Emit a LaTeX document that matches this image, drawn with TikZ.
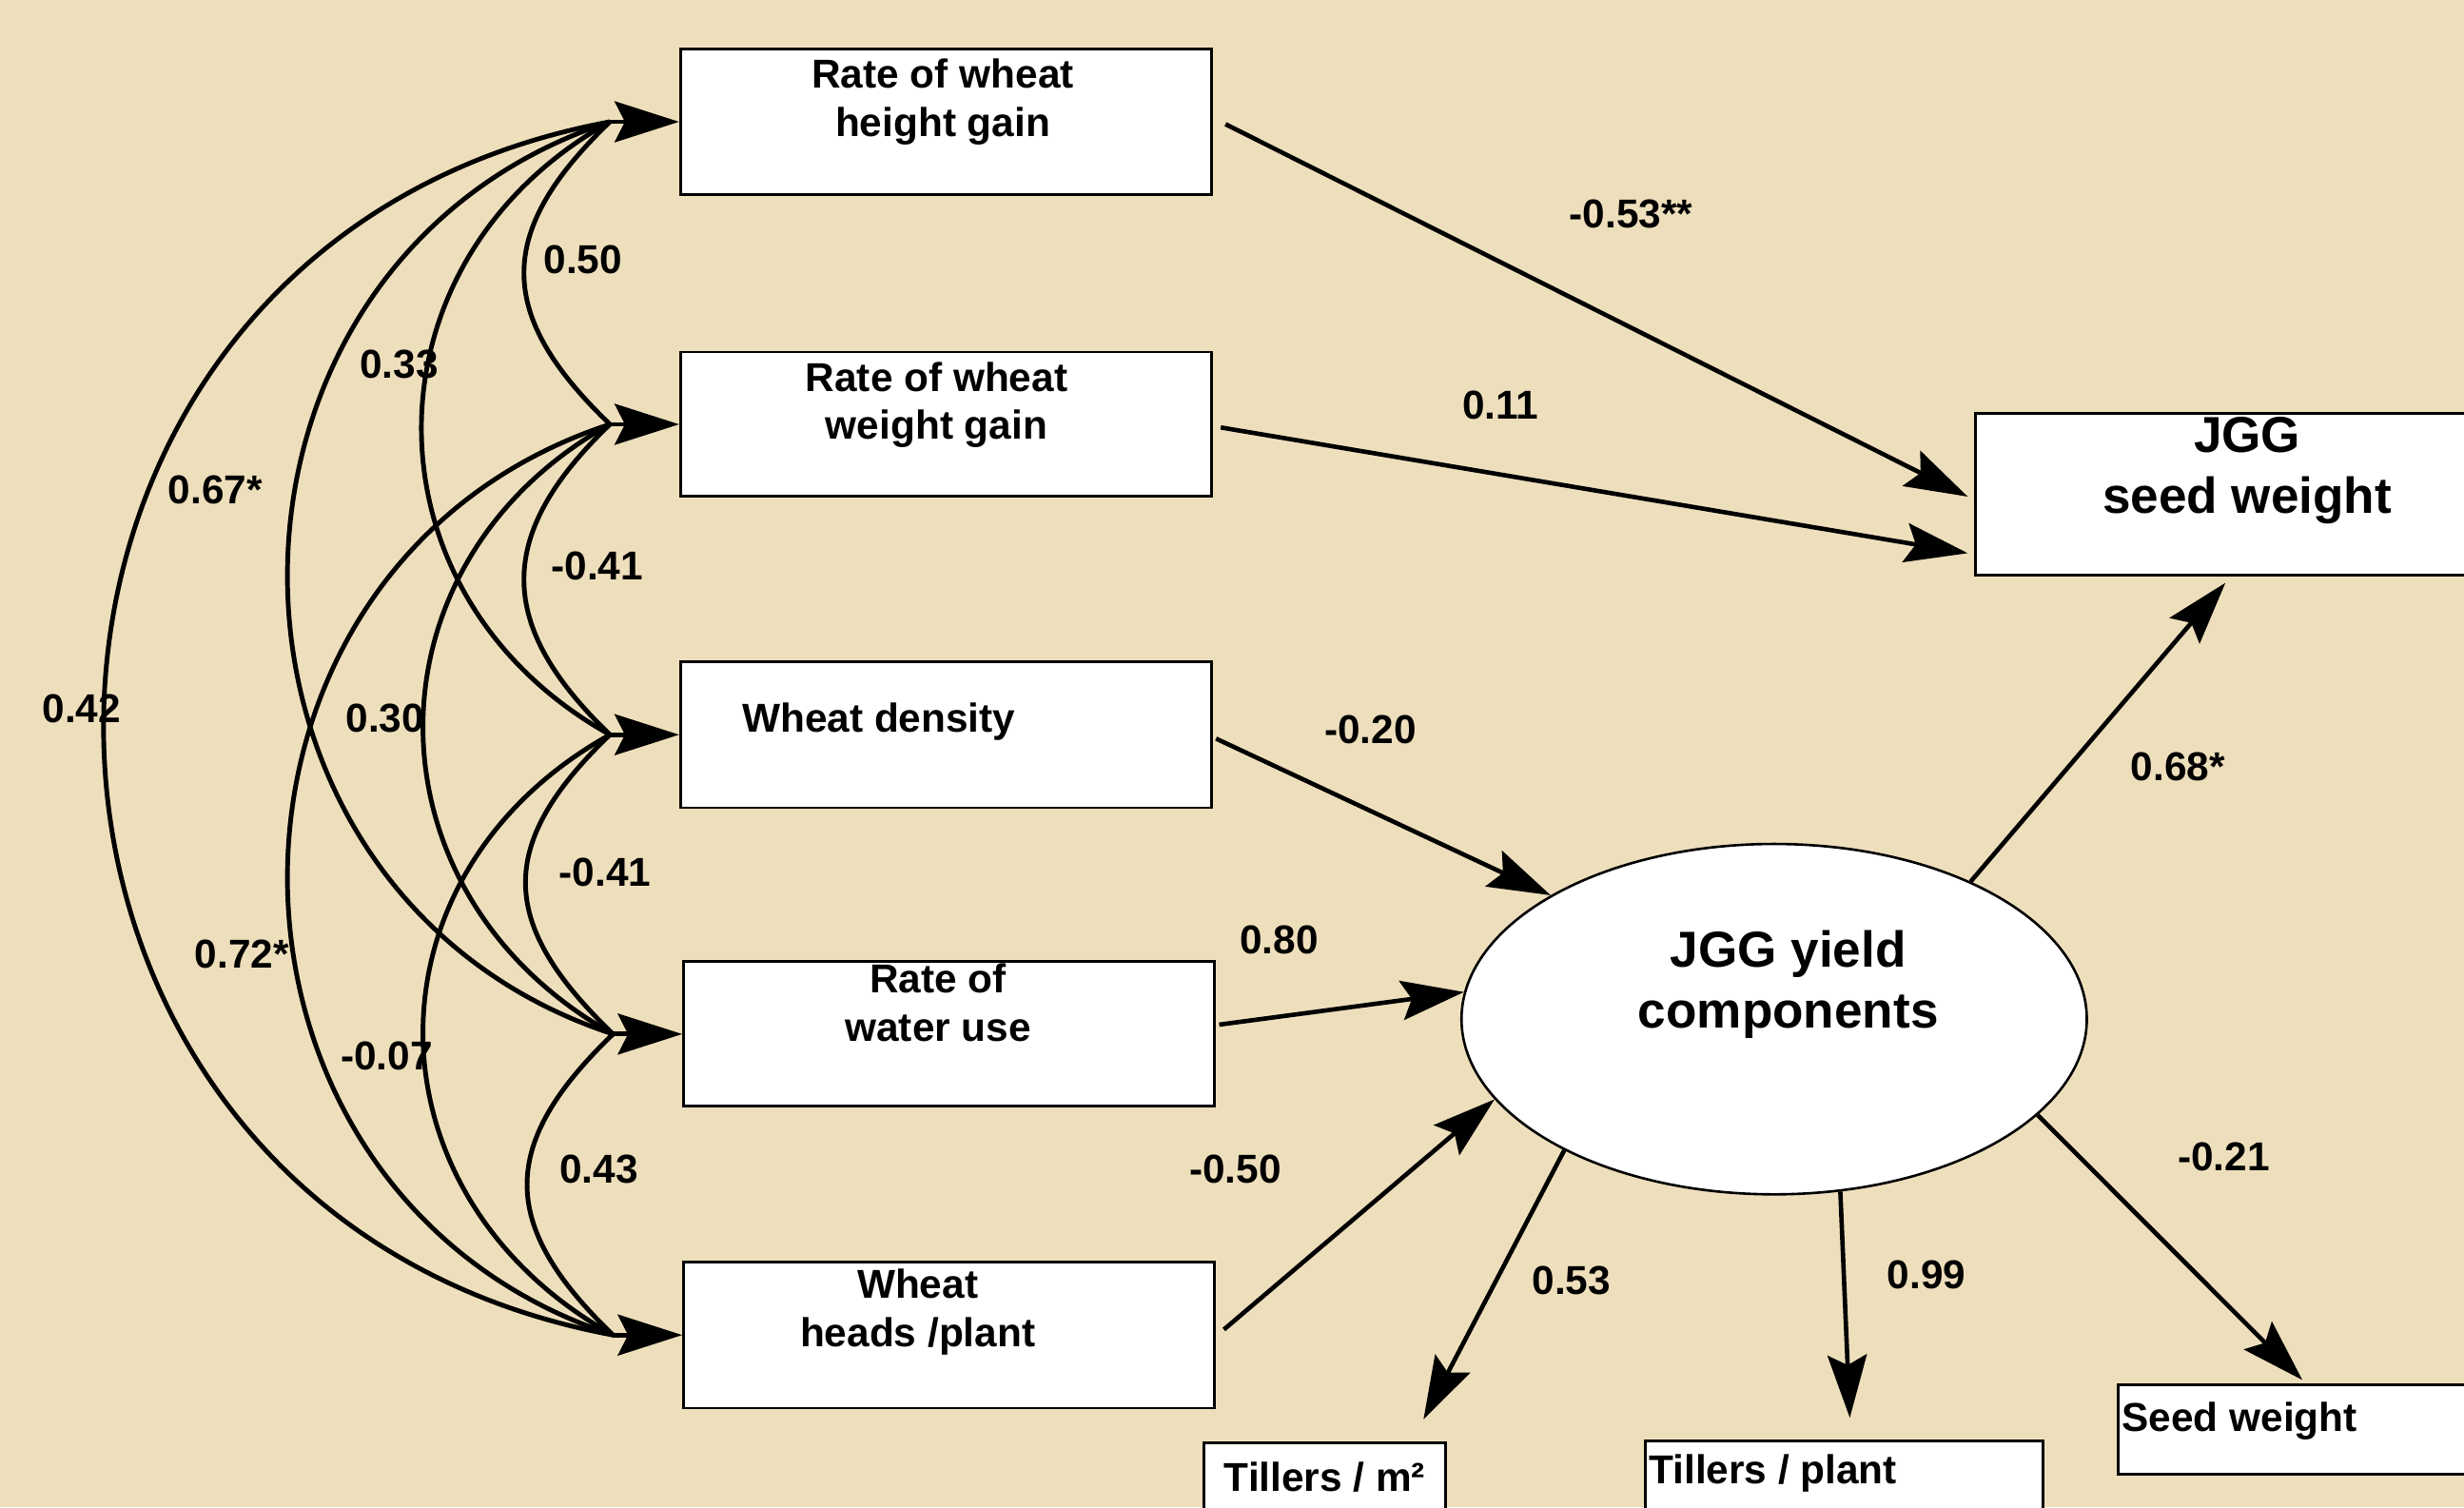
\documentclass[tikz,border=0pt]{standalone}
\usepackage{fontspec}
\setmainfont{Liberation Sans}
\usetikzlibrary{arrows.meta,shapes.geometric,calc}
\definecolor{parch}{RGB}{238,223,188}
\begin{document}
\begin{tikzpicture}[x=0.02cm,y=-0.02cm,
  font=\fontsize{14.6}{17.5}\selectfont\bfseries,
  box/.style={draw=black,line width=1pt,fill=white,inner sep=0pt},
  txt/.style={inner sep=0pt,align=center},
  bigtxt/.style={inner sep=0pt,align=center,font=\fontsize{18.3}{22}\selectfont\bfseries},
  lab/.style={inner sep=0pt},
  arr/.style={line width=1.6pt,-{Stealth[length=0.8cm,width=0.5cm,inset=0.13cm]}},
  cor/.style={line width=1.7pt},
  cortip/.style={line width=1.7pt,-{Stealth[length=0.82cm,width=0.52cm,inset=0.13cm]}}]
\clip (0,0) rectangle (1568,959);
\fill[parch] (0,0) rectangle (1568,959);

% left boxes
\node[box,minimum width=6.76cm,minimum height=1.86cm] (b1) at (602,77.5) {};
\node[box,minimum width=6.76cm,minimum height=1.84cm] (b2) at (602,270) {};
\node[box,minimum width=6.76cm,minimum height=1.86cm] (b3) at (602,467.5) {};
\node[box,minimum width=6.76cm,minimum height=1.84cm] (b4) at (604,658) {};
\node[box,minimum width=6.76cm,minimum height=1.86cm] (b5) at (604,849.5) {};
\node[txt,anchor=north] (t1) at (600,37) {Rate of wheat\\height gain};
\node[txt,anchor=north] (t2) at (596,230) {Rate of wheat\\weight gain};
\node[txt,anchor=north west] (t3) at (472,447) {Wheat density};
\node[txt,anchor=north] (t4) at (597,613) {Rate of\\water use};
\node[txt,anchor=north] (t5) at (584,807) {Wheat\\heads /plant};

% right side
\node[box,minimum width=7.06cm,minimum height=2.06cm] (sw) at (1433.5,314.5) {};
\node[bigtxt,anchor=north] (tsw) at (1430,265) {JGG\\seed weight};
\node[box,ellipse,minimum width=7.96cm,minimum height=4.46cm,line width=0.9pt] (yc) at (1129,648.5) {};
\node[bigtxt,anchor=north] (tyc) at (1138,592) {JGG yield\\components};
\node[box,minimum width=3.08cm,minimum height=1.44cm] (tm) at (843,954) {};
\node[lab,anchor=base] (ttm) at (843,949) {Tillers / m²};
\node[box,minimum width=5.06cm,minimum height=1.46cm] (tp) at (1173.5,953.5) {};
\node[lab,anchor=base west] (ttp) at (1049,944) {Tillers / plant};
\node[box,minimum width=5.04cm,minimum height=1.14cm] (sd) at (1474,909.5) {};
\node[lab,anchor=base west] (tsd) at (1350,911) {Seed weight};

% straight paths
\draw[arr] ($(b1.east)+(8,1.5)$) -- ($(sw.west)+(-4,1.5)$);
\draw[arr] ($(b2.east)+(5,2)$) -- ($(sw.west)+(-4,37.5)$);
\draw[arr] ($(b3.east)+(2,2.5)$) -- (yc.151);
\draw[arr] ($(b4.east)+(2,-6)$) -- (yc.175);
\draw[arr] ($(b5.east)+(5,-3.5)$) -- (yc.196);
\draw[arr] (yc.35) -- ($(sw.south west)+(160,4)$);
\draw[arr] (yc.212) -- ($(tm.north east)+(-15,-14)$);
\draw[arr] (yc.291) -- ($(tp.north west)+(131,-14)$);
\draw[arr] (yc.340) -- ($(sd.north west)+(118,-2)$);

% path labels
\node[lab] (l1) at (1038,136) {-0.53**};
\node[lab] (l2) at (955,258) {0.11};
\node[lab] (l3) at (872,464) {-0.20};
\node[lab] (l4) at (814,598) {0.80};
\node[lab] (l5) at (786,744) {-0.50};
\node[lab] (l6) at (1386,488) {0.68*};
\node[lab] (l7) at (1000,815) {0.53};
\node[lab] (l8) at (1226,811) {0.99};
\node[lab] (l9) at (1415,736) {-0.21};

% correlation arcs
\coordinate (p1) at ($(b1.west)+(-44,0)$);
\coordinate (p2) at ($(b2.west)+(-44,0)$);
\coordinate (p3) at ($(b3.west)+(-44,0)$);
\coordinate (p4) at ($(b4.west)+(-44,0)$);
\coordinate (p5) at ($(b5.west)+(-44,0)$);
\draw[cortip] (p1) -- (b1.west);
\draw[cortip] (p2) -- (b2.west);
\draw[cortip] (p3) -- (b3.west);
\draw[cortip] (p4) -- (b4.west);
\draw[cortip] (p5) -- (b5.west);
\draw[cor] (p1) .. controls +(-73,70) and +(-73,-70) .. (p2);
\draw[cor] (p2) .. controls +(-73,70) and +(-73,-70) .. (p3);
\draw[cor] (p3) .. controls +(-73,70) and +(-73,-70) .. (p4);
\draw[cor] (p4) .. controls +(-73,70) and +(-73,-70) .. (p5);
\draw[cor] (p1) .. controls +(-160,89) and +(-160,-89) .. (p3);
\draw[cor] (p2) .. controls +(-160,89) and +(-160,-89) .. (p4);
\draw[cor] (p3) .. controls +(-160,89) and +(-160,-89) .. (p5);
\draw[cor] (p1) .. controls +(-275,90) and +(-275,-90) .. (p4);
\draw[cor] (p2) .. controls +(-275,90) and +(-275,-90) .. (p5);
\draw[cor] (p1) .. controls +(-431,80) and +(-431,-80) .. (p5);

\node[lab] (c1) at (371,165) {0.50};
\node[lab] (c2) at (380,360) {-0.41};
\node[lab] (c3) at (385,555) {-0.41};
\node[lab] (c4) at (381,744) {0.43};
\node[lab] (c5) at (254,232) {0.33};
\node[lab] (c6) at (245,457) {0.30};
\node[lab] (c7) at (246,672) {-0.07};
\node[lab] (c8) at (137,312) {0.67*};
\node[lab] (c9) at (154,607) {0.72*};
\node[lab] (c10) at (52,451) {0.42};
\end{tikzpicture}
\end{document}
